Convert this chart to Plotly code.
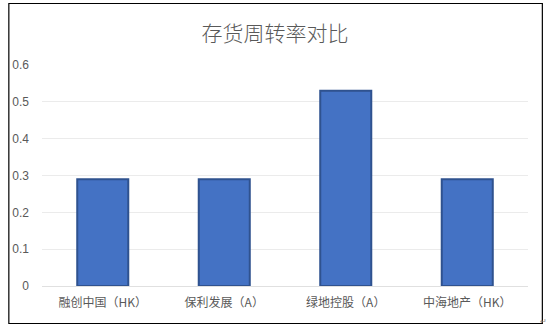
import plotly.graph_objects as go

categories = ["融创中国（HK）", "保利发展（A）", "绿地控股（A）", "中海地产（HK）"]
values = [0.29, 0.29, 0.53, 0.29]
tick_vals = [0, 0.1, 0.2, 0.3, 0.4, 0.5, 0.6]
tick_text = ["0", "0.1", "0.2", "0.3", "0.4", "0.5", "0.6"]
title_text = "存货周转率对比"

font_family = "Noto Sans CJK SC, Microsoft YaHei, sans-serif"

fig = go.Figure()
fig.add_trace(go.Bar(
    x=categories, y=values,
    marker=dict(color="#4472C4", line=dict(color="#2F528F", width=2)),
    width=0.42,
))

L, R, T, B = 37, 22, 65, 42
W, H = 550, 328
pw = W - L - R
ph = H - T - B

def px_x(x):
    return (x - L) / pw

def px_y(y):
    return (H - B - y) / ph

fig.update_layout(
    width=W, height=H,
    margin=dict(l=L, r=R, t=T, b=B),
    paper_bgcolor="white", plot_bgcolor="white",
    showlegend=False,
    font=dict(family=font_family, color="#595959", size=12),
    title=dict(text=title_text, x=0.5, xanchor="center", y=1 - 34 / H, yanchor="middle",
               font=dict(size=21, color="#595959", family=font_family, weight=300)),
    xaxis=dict(showgrid=False, showline=False, ticks="", ticklabelstandoff=8,
               tickfont=dict(size=12, color="#595959")),
    yaxis=dict(range=[0, 0.6], tickvals=tick_vals, ticktext=tick_text, showgrid=True,
               gridcolor="#ebebeb", gridwidth=1, zeroline=True, zerolinecolor="#e0e0e0",
               zerolinewidth=1, showline=False, ticks="", ticklabelstandoff=12,
               tickfont=dict(size=12, color="#595959", family="Liberation Sans, Arial, sans-serif")),
    bargap=0.58,
    shapes=[dict(type="rect", xref="paper", yref="paper",
                 x0=px_x(3.5), x1=px_x(542.5), y0=px_y(323.5), y1=px_y(3.5),
                 line=dict(color="black", width=1.2), fillcolor="rgba(0,0,0,0)", layer="below")],
    annotations=[dict(text="↵", xref="paper", yref="paper", x=px_x(549), y=px_y(320),
                      xanchor="right", yanchor="middle",
                      showarrow=False, font=dict(size=8, color="#888888"))],
)

fig.write_html("out.html", config={"displayModeBar": False},
               post_script="document.body.style.margin='0px';document.body.style.overflow='hidden';")
